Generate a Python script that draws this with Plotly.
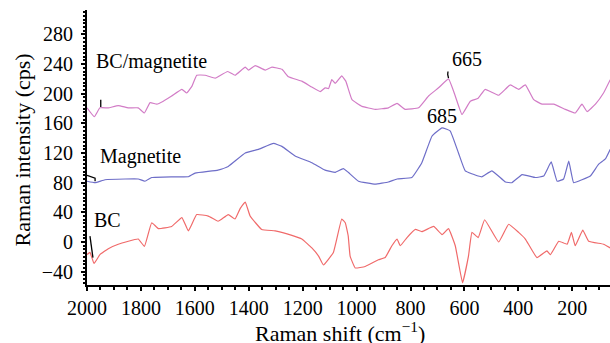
import plotly.graph_objects as go

# ---- data (Raman shift in cm^-1, intensity in cps) ----
bcm_x = [2000, 1973, 1952, 1921, 1884, 1847, 1810, 1787, 1766, 1741, 1717, 1686, 1648, 1630, 1611,
         1593, 1562, 1525, 1514, 1478, 1451, 1413, 1401, 1376, 1339, 1314, 1277, 1253, 1203, 1166,
         1135, 1117, 1104, 1092, 1079, 1055, 1040, 1017, 980, 931, 882, 850, 820, 770, 733, 696,
         659, 634, 609, 578, 549, 523, 473, 430, 399, 374, 343, 312, 269, 226, 189, 164, 145, 114, 84, 59]
bcm_y = [181, 169, 181, 181, 184, 181, 181, 174, 188, 186, 190, 197, 206, 201, 210,
         225, 225, 221, 223, 230, 225, 236, 232, 238, 232, 236, 233, 223, 217, 209,
         203, 208, 207, 219, 214, 224, 217, 192, 183, 179, 181, 187, 179, 181, 197, 208,
         220, 197, 172, 190, 194, 206, 198, 212, 206, 212, 192, 186, 186, 179, 174, 186, 176, 186, 201, 219]

mag_x = [2000, 1970, 1933, 1859, 1810, 1785, 1760, 1686, 1624, 1599, 1514, 1476, 1413, 1364, 1308,
         1277, 1228, 1166, 1117, 1079, 1049, 1031, 993, 931, 882, 850, 795, 758, 720, 683, 653, 622,
         597, 549, 535, 498, 448, 424, 386, 337, 306, 278, 256, 232, 213, 195, 164, 133, 102, 77, 59]
mag_y = [82, 80, 84, 85, 85, 82, 87, 88, 88, 93, 97, 102, 120, 125, 133,
         129, 116, 107, 97, 94, 99, 94, 82, 78, 81, 85, 87, 107, 143, 154, 150, 120,
         96, 89, 88, 96, 81, 80, 91, 87, 89, 108, 82, 85, 109, 80, 84, 89, 105, 112, 125]

bc_x = [2000, 1989, 1974, 1952, 1921, 1884, 1810, 1787, 1760, 1735, 1686, 1648, 1624, 1593, 1550,
        1514, 1500, 1476, 1451, 1432, 1413, 1395, 1352, 1302, 1240, 1203, 1166, 1141, 1123, 1086,
        1055, 1042, 1031, 1024, 1005, 968, 919, 894, 869, 850, 838, 813, 782, 758, 714, 683, 659,
        634, 607, 585, 572, 549, 525, 473, 436, 399, 374, 331, 294, 281, 250, 219, 203, 189, 161,
        139, 84, 59]
bc_y = [-17, -14, -29, -17, -9, -3, 4, -6, 26, 18, 21, 33, 15, 37, 35,
        28, 31, 37, 31, 45, 54, 35, 17, 15, 9, 4, -8, -19, -31, -14,
        31, 26, 8, -19, -35, -33, -24, -21, -5, 4, -5, 6, 17, 14, 21, 10, 18,
        -5, -55, -19, 13, 6, 30, 0, 24, 13, 4, -21, -12, -17, 1, -3, 13, -5, 16,
        1, -3, -8]

series_names = ["BC/magnetite", "Magnetite", "BC"]
series_colors = ["#d27cc6", "#6e6ec8", "#f06a6a"]

x_ticks = [2000, 1800, 1600, 1400, 1200, 1000, 800, 600, 400, 200]
y_ticks = [-40, 0, 40, 80, 120, 160, 200, 240, 280]

# label texts and anchors (data coordinates)
label_texts = ["BC/magnetite", "Magnetite", "BC", "665", "685"]
label_x = [1973, 1960, 1983, 655, 683]
label_y = [243, 115, 30, 247, 170]
label_anchor = ["left", "left", "left", "left", "center"]

# small black pointer marks
mark1_x = [1949, 1949]; mark1_y = [192, 182]
mark2_x = [2000, 1970, 1970]; mark2_y = [90, 86, 82]
mark3_x = [1989, 1978]; mark3_y = [8, -21]
mark4_x = [659, 662, 661]; mark4_y = [221, 226, 230]

x_title = "Raman shift (cm<sup>−1</sup>)"
y_title = "Raman intensity (cps)"

FONT = "Liberation Serif"

fig = go.Figure()
for xs, ys, nm, c in zip([bcm_x, mag_x, bc_x], [bcm_y, mag_y, bc_y], series_names, series_colors):
    fig.add_trace(go.Scatter(x=xs, y=ys, mode="lines", name=nm,
                             line=dict(color=c, width=1.2, shape="spline", smoothing=0.3)))

for mx, my in [(mark1_x, mark1_y), (mark2_x, mark2_y), (mark3_x, mark3_y), (mark4_x, mark4_y)]:
    fig.add_trace(go.Scatter(x=mx, y=my, mode="lines", line=dict(color="black", width=1.3),
                             showlegend=False, hoverinfo="skip"))

for t, lx, ly, a in zip(label_texts, label_x, label_y, label_anchor):
    fig.add_annotation(x=lx, y=ly, text=t, showarrow=False, xanchor=a, yanchor="middle",
                       font=dict(family=FONT, size=20, color="black"))

# axis titles
fig.add_annotation(xref="paper", yref="paper", x=0.484, y=-0.172, text=x_title, showarrow=False,
                   xanchor="center", yanchor="middle", font=dict(family=FONT, size=22, color="black"))
fig.add_annotation(xref="paper", yref="paper", x=-0.124, y=0.49, text=y_title, showarrow=False,
                   textangle=-90, xanchor="center", yanchor="middle",
                   font=dict(family=FONT, size=22, color="black"))

fig.update_layout(
    width=610, height=343,
    margin=dict(l=87, r=0, t=10, b=58),
    paper_bgcolor="white", plot_bgcolor="white",
    showlegend=False,
    font=dict(family=FONT, size=20, color="black"),
)
fig.update_xaxes(
    range=[2000, 60], tickvals=x_ticks, ticks="outside", ticklen=4, tickwidth=1.5,
    tickcolor="black", showline=True, linecolor="black", linewidth=2, showgrid=False,
    zeroline=False, tickfont=dict(family=FONT, size=20), automargin=False,
    minor=dict(dtick=50, ticks="outside", ticklen=3, tickcolor="black", showgrid=False),
)
fig.update_yaxes(
    range=[-58, 313], tickvals=y_ticks, ticks="outside", ticklen=4, tickwidth=1.5,
    tickcolor="black", showline=True, linecolor="black", linewidth=2, showgrid=False,
    zeroline=False, tickfont=dict(family=FONT, size=20), automargin=False, ticklabelstandoff=4,
    minor=dict(dtick=5, ticks="outside", ticklen=2, tickcolor="black", showgrid=False),
)

fig.write_html("out.html", config={"displayModeBar": False},
               post_script="document.body.style.margin='0';document.body.style.overflow='hidden';")
